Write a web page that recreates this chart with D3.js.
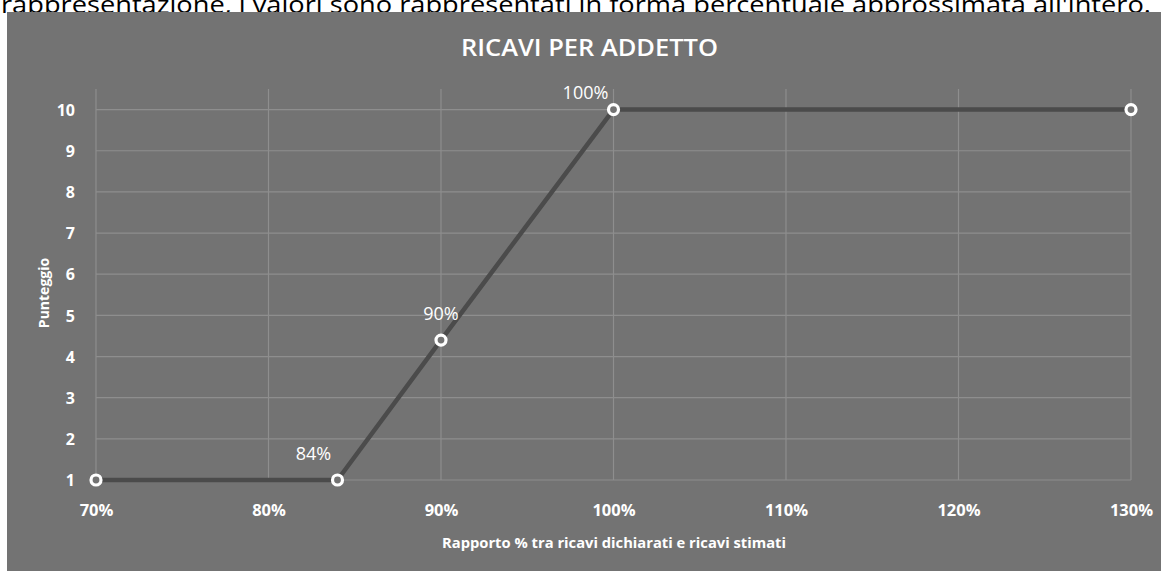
<!DOCTYPE html>
<html>
<head>
<meta charset="utf-8">
<script src="https://cdn.jsdelivr.net/npm/d3@7/dist/d3.min.js"></script>
<style>
  html, body { margin: 0; padding: 0; background: #ffffff; overflow: hidden; }
  svg { display: block; }
</style>
</head>
<body>
<svg id="chart" width="1161" height="571"></svg>
<script>
// ---- data ----
const headerText = "rappresentazione, i valori sono rappresentati in forma percentuale approssimata all'intero.";
const chartTitle = "RICAVI PER ADDETTO";
const xTitle = "Rapporto % tra ricavi dichiarati e ricavi stimati";
const yTitle = "Punteggio";
const ratioValues = [0.70, 0.84, 0.90, 1.00, 1.30];
const scoreValues = [1, 1, 4.4, 10, 10];
const pointLabels = ["", "84%", "90%", "100%", ""];
const xTickValues = [0.7, 0.8, 0.9, 1.0, 1.1, 1.2, 1.3];
const xTickLabels = ["70%", "80%", "90%", "100%", "110%", "120%", "130%"];
const yTickValues = [1, 2, 3, 4, 5, 6, 7, 8, 9, 10];

// ---- style / layout ----
const W = 1161, H = 571;
const bg = "#737373", gridColor = "#8e8e8e", lineColor = "#4b4b4b";
const plot = { left: 96, right: 1131, top: 89, bottom: 480 };
const labelOffsets = [[0, 0], [-24, -20], [0, -20], [-28, -11], [0, 0]];
const FONT = "'Open Sans', 'DejaVu Sans', sans-serif";

const svg = d3.select("#chart");

// header text (partly hidden behind the chart box, as in the source page)
svg.append("text")
  .attr("x", 1).attr("y", 13)
  .attr("font-family", FONT).attr("font-size", 24)
  .attr("fill", "#000")
  .attr("textLength", 1150).attr("lengthAdjust", "spacingAndGlyphs")
  .text(headerText);

// chart background
svg.append("rect").attr("x", 7).attr("y", 12).attr("width", W - 7).attr("height", H - 12).attr("fill", bg);

const x = d3.scaleLinear().domain([0.7, 1.3]).range([plot.left, plot.right]);
const y = d3.scaleLinear().domain([1, 10.5]).range([plot.bottom, plot.top]);

// gridlines
const g = svg.append("g");
g.selectAll("line.h").data(yTickValues).join("line")
  .attr("x1", plot.left).attr("x2", plot.right)
  .attr("y1", d => y(d)).attr("y2", d => y(d))
  .attr("stroke", gridColor).attr("stroke-width", 1.2);
g.selectAll("line.v").data(xTickValues).join("line")
  .attr("y1", plot.top).attr("y2", plot.bottom)
  .attr("x1", d => x(d)).attr("x2", d => x(d))
  .attr("stroke", gridColor).attr("stroke-width", 1.2);

// axes (labels only)
const xAxis = d3.axisBottom(x).tickValues(xTickValues)
  .tickFormat((d, i) => xTickLabels[i]).tickSize(0).tickPadding(0);
const xg = svg.append("g").attr("transform", `translate(0,${plot.bottom})`).call(xAxis);
xg.select(".domain").remove();
xg.selectAll("text")
  .attr("font-family", FONT).attr("font-size", 16.5).attr("font-weight", "bold")
  .attr("fill", "#ffffff").attr("dy", null).attr("y", 36);

const yAxis = d3.axisLeft(y).tickValues(yTickValues).tickSize(0).tickPadding(0);
const yg = svg.append("g").attr("transform", `translate(${plot.left - 21},0)`).call(yAxis);
yg.select(".domain").remove();
yg.selectAll("text")
  .attr("font-family", FONT).attr("font-size", 16).attr("font-weight", "bold")
  .attr("fill", "#ffffff").attr("dy", "0.36em");

// line
const pts = ratioValues.map((r, i) => ({ r, s: scoreValues[i], label: pointLabels[i], i }));
svg.append("path")
  .datum(pts)
  .attr("d", d3.line().x(d => x(d.r)).y(d => y(d.s)))
  .attr("fill", "none").attr("stroke", lineColor).attr("stroke-width", 4.5)
  .attr("stroke-linejoin", "round");

// markers
svg.selectAll("circle.pt").data(pts).join("circle")
  .attr("cx", d => x(d.r)).attr("cy", d => y(d.s)).attr("r", 5)
  .attr("fill", bg).attr("stroke", "#ffffff").attr("stroke-width", 3.2);

// point labels
svg.selectAll("text.pl").data(pts.filter(d => d.label)).join("text")
  .attr("x", d => x(d.r) + labelOffsets[d.i][0])
  .attr("y", d => y(d.s) + labelOffsets[d.i][1])
  .attr("text-anchor", "middle")
  .attr("font-family", FONT).attr("font-size", 18).attr("font-weight", 500)
  .attr("fill", "#ffffff")
  .text(d => d.label);

// title
svg.append("text")
  .attr("x", 461).attr("y", 56)
  .attr("font-family", FONT).attr("font-size", 23).attr("font-weight", 600)
  .attr("fill", "#ffffff")
  .attr("textLength", 257).attr("lengthAdjust", "spacingAndGlyphs")
  .text(chartTitle);

// x axis title
svg.append("text")
  .attr("x", 442).attr("y", 548)
  .attr("font-family", FONT).attr("font-size", 15).attr("font-weight", "bold")
  .attr("fill", "#ffffff")
  .attr("textLength", 344).attr("lengthAdjust", "spacingAndGlyphs")
  .text(xTitle);

// y axis title
svg.append("text")
  .attr("transform", "translate(49,293) rotate(-90)")
  .attr("text-anchor", "middle")
  .attr("font-family", FONT).attr("font-size", 14).attr("font-weight", "bold")
  .attr("fill", "#ffffff")
  .text(yTitle);
</script>
</body>
</html>
